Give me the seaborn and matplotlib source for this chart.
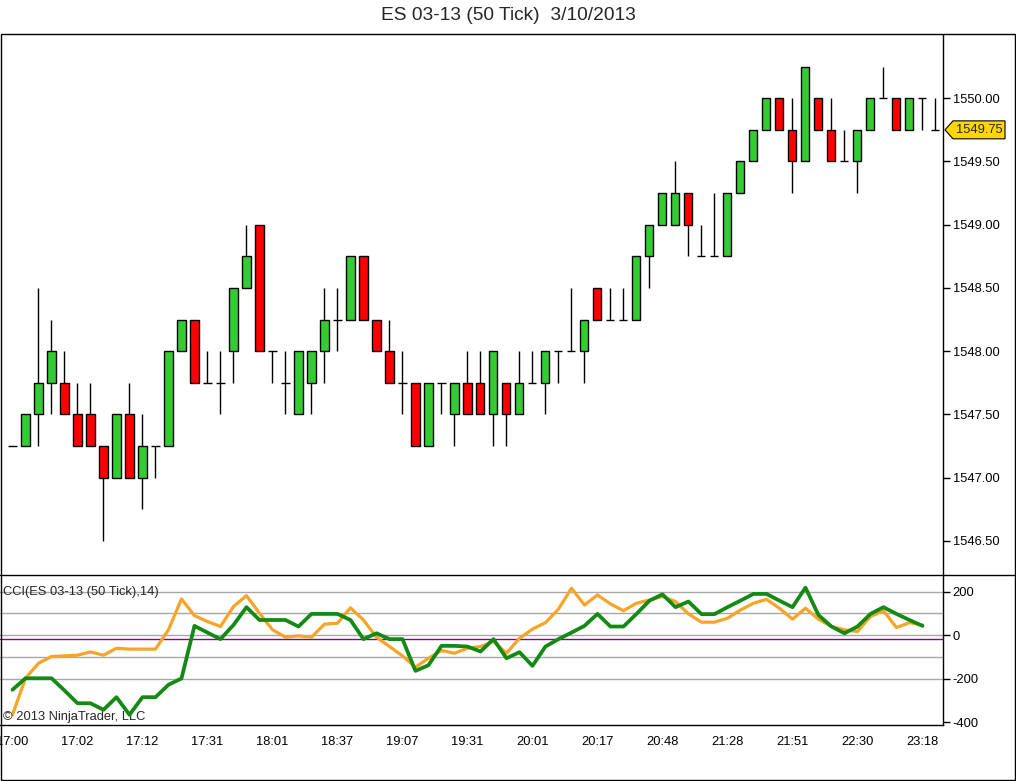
import numpy as np
import pandas as pd
import matplotlib
matplotlib.use("Agg")
import matplotlib.pyplot as plt
import seaborn as sns
from matplotlib.patches import Rectangle, Polygon
from matplotlib.lines import Line2D

sns.set_style("white")
plt.rcParams["font.family"] = ["Liberation Sans", "DejaVu Sans"]
plt.rcParams["axes.unicode_minus"] = False

# 50 tick bars, ES 03-13
opens = [1547.25, 1547.25, 1547.5, 1547.75, 1547.75, 1547.5, 1547.5, 1547.25, 1547.0, 1547.5,
         1547.0, 1547.25, 1547.25, 1548.0, 1548.25, 1547.75, 1547.75, 1548.0, 1548.5, 1549.0,
         1548.0, 1547.75, 1547.5, 1547.75, 1548.0, 1548.25, 1548.25, 1548.75, 1548.25, 1548.0,
         1547.75, 1547.75, 1547.25, 1547.75, 1547.5, 1547.75, 1547.75, 1547.5, 1547.75, 1547.5,
         1547.75, 1547.75, 1548.0, 1548.0, 1548.0, 1548.5, 1548.25, 1548.25, 1548.25, 1548.75,
         1549.0, 1549.0, 1549.25, 1548.75, 1548.75, 1548.75, 1549.25, 1549.5, 1549.75, 1550.0,
         1549.75, 1549.5, 1550.0, 1549.75, 1549.5, 1549.5, 1549.75, 1550.0, 1550.0, 1549.75,
         1550.0, 1549.75]
closes = [1547.25, 1547.5, 1547.75, 1548.0, 1547.5, 1547.25, 1547.25, 1547.0, 1547.5, 1547.0,
          1547.25, 1547.25, 1548.0, 1548.25, 1547.75, 1547.75, 1547.75, 1548.5, 1548.75, 1548.0,
          1548.0, 1547.75, 1548.0, 1548.0, 1548.25, 1548.25, 1548.75, 1548.25, 1548.0, 1547.75,
          1547.75, 1547.25, 1547.75, 1547.75, 1547.75, 1547.5, 1547.5, 1548.0, 1547.5, 1547.75,
          1547.75, 1548.0, 1548.0, 1548.0, 1548.25, 1548.25, 1548.25, 1548.25, 1548.75, 1549.0,
          1549.25, 1549.25, 1549.0, 1548.75, 1548.75, 1549.25, 1549.5, 1549.75, 1550.0, 1549.75,
          1549.5, 1550.25, 1549.75, 1549.5, 1549.5, 1549.75, 1550.0, 1550.0, 1549.75, 1550.0,
          1550.0, 1549.75]
highs = [1547.25, 1547.5, 1548.5, 1548.25, 1548.0, 1547.75, 1547.75, 1547.25, 1547.5, 1547.75,
         1547.5, 1547.25, 1548.0, 1548.25, 1548.25, 1548.0, 1548.0, 1548.5, 1549.0, 1549.0,
         1548.0, 1548.0, 1548.0, 1548.0, 1548.5, 1548.5, 1548.75, 1548.75, 1548.25, 1548.25,
         1548.0, 1547.75, 1547.75, 1547.75, 1547.75, 1548.0, 1548.0, 1548.0, 1547.75, 1548.0,
         1548.0, 1548.0, 1548.0, 1548.5, 1548.25, 1548.5, 1548.5, 1548.5, 1548.75, 1549.0,
         1549.25, 1549.5, 1549.25, 1549.0, 1549.25, 1549.25, 1549.5, 1549.75, 1550.0, 1550.0,
         1550.0, 1550.25, 1550.0, 1550.0, 1549.75, 1549.75, 1550.0, 1550.25, 1550.0, 1550.0,
         1550.0, 1550.0]
lows = [1547.25, 1547.25, 1547.25, 1547.5, 1547.5, 1547.25, 1547.25, 1546.5, 1547.0, 1547.0,
        1546.75, 1547.0, 1547.25, 1548.0, 1547.75, 1547.75, 1547.5, 1547.75, 1548.5, 1548.0,
        1547.75, 1547.5, 1547.5, 1547.5, 1547.75, 1548.0, 1548.25, 1548.25, 1548.0, 1547.75,
        1547.5, 1547.25, 1547.25, 1547.5, 1547.25, 1547.5, 1547.5, 1547.25, 1547.25, 1547.5,
        1547.75, 1547.5, 1547.75, 1548.0, 1547.75, 1548.25, 1548.25, 1548.25, 1548.25, 1548.5,
        1549.0, 1549.0, 1548.75, 1548.75, 1548.75, 1548.75, 1549.25, 1549.5, 1549.75, 1549.75,
        1549.25, 1549.5, 1549.75, 1549.5, 1549.5, 1549.25, 1549.75, 1550.0, 1549.75, 1549.75,
        1549.75, 1549.75]

# CCI(14) - two plots, last bar not yet calculated
cci_orange = [-366, -198, -129, -98, -95, -92, -77, -92, -60, -64,
              -64, -64, 25, 167, 90, 63, 40, 132, 182, 101,
              25, -9, -3, -9, 51, 55, 126, 70, -9, -52,
              -95, -147, -106, -70, -83, -60, -52, -29, -83, -14,
              28, 58, 120, 216, 139, 185, 144, 113, 147, 162,
              178, 155, 98, 60, 60, 78, 116, 147, 165, 124,
              74, 124, 74, 40, 25, 17, 86, 113, 35, 58,
              47, np.nan]
cci_green = [-251, -198, -198, -198, -254, -313, -313, -343, -285, -366,
             -285, -285, -228, -199, 43, 12, -18, 47, 129, 70,
             70, 70, 40, 98, 98, 98, 70, -18, 9, -18,
             -18, -164, -138, -49, -49, -52, -75, -18, -106, -78,
             -141, -52, -18, 12, 43, 98, 40, 40, 98, 159,
             188, 129, 155, 97, 97, 129, 159, 190, 190, 159,
             129, 219, 93, 40, 9, 40, 98, 129, 98, 70,
             43, np.nan]
cci_levels = [200, 100, 0, -100, -200]

time_labels = ["17:00", "17:02", "17:12", "17:31", "18:01", "18:37", "19:07", "19:31",
               "20:01", "20:17", "20:48", "21:28", "21:51", "22:30", "23:18"]

W, H = 1016, 781
fig = plt.figure(figsize=(W / 100, H / 100), dpi=100)
ax = fig.add_axes([0, 1 - 575 / H, 943 / W, 540 / H])
ax2 = fig.add_axes([0, 1 - 725 / H, 943 / W, 150 / H], sharex=ax)

df = pd.DataFrame({"o": opens, "h": highs, "l": lows, "c": closes})
df["bar"] = np.arange(len(df))
df["lo"] = df[["o", "c"]].min(axis=1)
df["size"] = (df["c"] - df["o"]).abs()
up = df["c"] > df["o"]
body = df[df["size"] > 0]
doji = df[df["size"] == 0]

# candles
bw = 0.62
ax.vlines(df["bar"], df["l"], df["h"], color="black", lw=1, zorder=2)
ax.bar(body["bar"], body["size"], bottom=body["lo"], width=bw,
       color=np.where(up[body.index], "#33CC33", "#FF0000"),
       edgecolor="black", linewidth=1, zorder=3)
ax.hlines(doji["o"], doji["bar"] - bw / 2, doji["bar"] + bw / 2, color="black", lw=1, zorder=3)

ax.set_xlim(-0.96, 71.58)
ax.set_ylim(1546.23, 1550.5)
ax.yaxis.tick_right()
ax.set_yticks(np.arange(1546.5, 1550.01, 0.5))
ax.set_yticklabels([f"{v:.2f}" for v in np.arange(1546.5, 1550.01, 0.5)])
ax.tick_params(axis="y", direction="out", length=5, width=1, labelsize=9.3, pad=2, colors="black")
ax.tick_params(axis="x", bottom=False, labelbottom=False)
for s in ["left", "top", "bottom"]:
    ax.spines[s].set_visible(False)
ax.spines["right"].set_color("black")
ax.spines["right"].set_linewidth(1)

# last price tag
last = closes[-1]
dy = 0.071
tag = Polygon([(945 / 943, last), (953 / 943, last + dy), (1005 / 943, last + dy),
               (1005 / 943, last - dy), (953 / 943, last - dy)],
              closed=True, transform=ax.get_yaxis_transform(), clip_on=False,
              fc="#FFD700", ec="black", lw=0.8, zorder=5)
ax.add_patch(tag)
ax.text(979 / 943, last, f"{last:.2f}", transform=ax.get_yaxis_transform(),
        ha="center", va="center", fontsize=9.3, zorder=6)

# CCI panel
for lv in cci_levels:
    ax2.axhline(lv, color="#A8A8A8", lw=1, zorder=1)
ax2.axhline(-17, color="#880088", lw=1, zorder=1)
cci = pd.DataFrame({"bar": np.arange(len(cci_orange)), "orange": cci_orange, "green": cci_green})
sns.lineplot(data=cci, x="bar", y="orange", ax=ax2, color="#F7A428", lw=2.3, zorder=3)
sns.lineplot(data=cci, x="bar", y="green", ax=ax2, color="#138A13", lw=2.7, zorder=4)
ax2.set_ylim(-413, 277)
ax2.yaxis.tick_right()
ax2.set_yticks([200, 0, -200, -400])
ax2.tick_params(axis="y", direction="out", length=5, width=1, labelsize=9.3, pad=2, colors="black")
ax2.set_xticks(np.arange(0, 71, 5))
ax2.set_xticklabels(time_labels)
ax2.tick_params(axis="x", direction="out", length=5, width=1, labelsize=9.3, pad=3, colors="black")
ax2.set_xlabel("")
ax2.set_ylabel("")
for s in ["left", "top"]:
    ax2.spines[s].set_visible(False)
for s in ["right", "bottom"]:
    ax2.spines[s].set_color("black")
    ax2.spines[s].set_linewidth(1)
ax2.text(3 / 943, 0.887, "CCI(ES 03-13 (50 Tick),14)", transform=ax2.transAxes,
         ha="left", va="center", fontsize=9.3)
ax2.text(3 / 943, 0.055, "\u00a9 2013 NinjaTrader, LLC", transform=ax2.transAxes,
         ha="left", va="center", fontsize=9.3)

# frame and separator
fig.patches.append(Rectangle((0.5 / W, 1 - 780 / H), 1014.5 / W, 746 / H, transform=fig.transFigure,
                             fill=False, ec="black", lw=1))
fig.lines.append(Line2D([0, 1015 / W], [1 - 575 / H] * 2, transform=fig.transFigure, color="black", lw=1))

fig.text(0.5, 1 - 16 / H, "ES 03-13 (50 Tick)  3/10/2013", ha="center", va="center", fontsize=13.8)

fig.savefig("out.png", dpi=100, facecolor="white")
